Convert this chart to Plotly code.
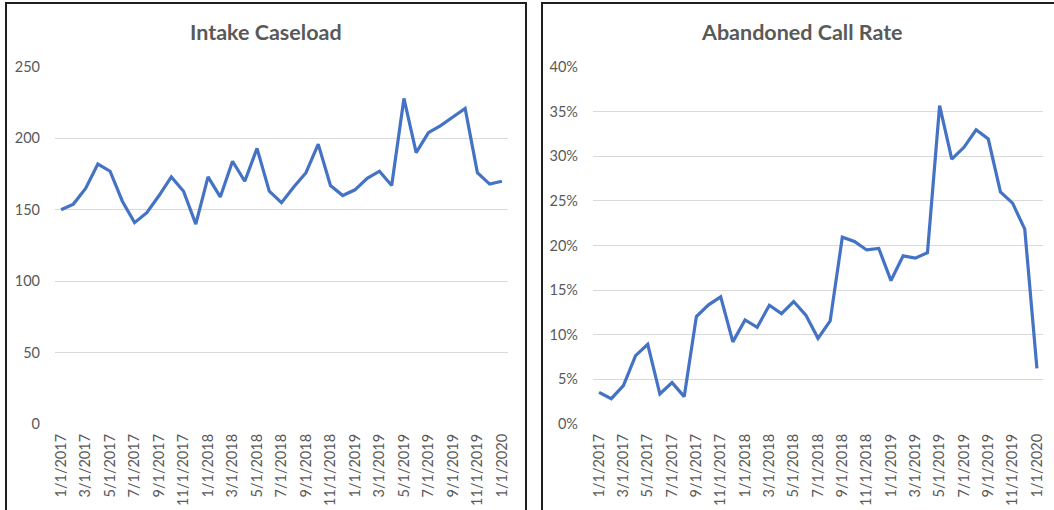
import plotly.graph_objects as go

months = [
    "1/1/2017", "2/1/2017", "3/1/2017", "4/1/2017", "5/1/2017", "6/1/2017",
    "7/1/2017", "8/1/2017", "9/1/2017", "10/1/2017", "11/1/2017", "12/1/2017",
    "1/1/2018", "2/1/2018", "3/1/2018", "4/1/2018", "5/1/2018", "6/1/2018",
    "7/1/2018", "8/1/2018", "9/1/2018", "10/1/2018", "11/1/2018", "12/1/2018",
    "1/1/2019", "2/1/2019", "3/1/2019", "4/1/2019", "5/1/2019", "6/1/2019",
    "7/1/2019", "8/1/2019", "9/1/2019", "10/1/2019", "11/1/2019", "12/1/2019",
    "1/1/2020",
]

intake_caseload = [
    150, 154, 165, 182, 177, 156, 141, 148, 160, 173, 163, 140,
    173, 159, 184, 170, 193, 163, 155, 166, 176, 196, 167, 160,
    164, 172, 177, 167, 228, 190, 204, 209, 215, 221, 176, 168,
    170,
]

abandoned_rate = [
    0.0355, 0.0284, 0.043, 0.0766, 0.0893, 0.0336, 0.0464, 0.0307, 0.1204, 0.1335, 0.1424, 0.092,
    0.1166, 0.1084, 0.133, 0.1237, 0.1372, 0.122, 0.096, 0.1155, 0.2093, 0.2045, 0.195, 0.1966,
    0.1607, 0.1884, 0.1858, 0.192, 0.3566, 0.2968, 0.31, 0.3297, 0.3193, 0.26, 0.2475, 0.2183,
    0.0624,
]

tick_months = months[::2]

W, H = 1054, 510
LINE = "#4472C4"
GRID = "#D9D9D9"
TXT = "#595959"
FONT = "Lato"


def px_x(p):
    return p / W


def px_y(p):
    return (H - p) / H


fig = go.Figure()
fig.add_trace(go.Scatter(x=months, y=intake_caseload, mode="lines",
                         line=dict(color=LINE, width=3.2), xaxis="x", yaxis="y",
                         showlegend=False))
fig.add_trace(go.Scatter(x=months, y=abandoned_rate, mode="lines",
                         line=dict(color=LINE, width=3.2), xaxis="x2", yaxis="y2",
                         showlegend=False))

ydom = [px_y(424), px_y(67)]
xcommon = dict(type="category", tickmode="array", tickvals=tick_months, ticktext=tick_months,
               range=[-0.5, len(months) - 0.5],
               tickangle=-90, showgrid=False, zeroline=False, showline=False,
               tickfont=dict(family=FONT, size=14.5, color=TXT), ticks="",
               ticklabelstandoff=6, fixedrange=True, automargin=False)
ycommon = dict(showgrid=True, gridcolor=GRID, gridwidth=1, zeroline=False, showline=False,
               tickfont=dict(family=FONT, size=14.5, color=TXT), ticks="",
               ticklabelstandoff=14, fixedrange=True, automargin=False)

fig.update_layout(
    width=W, height=H,
    margin=dict(l=0, r=0, t=0, b=0, pad=0, autoexpand=False),
    paper_bgcolor="white", plot_bgcolor="white",
    xaxis=dict(domain=[px_x(55), px_x(508)], anchor="y", **xcommon),
    yaxis=dict(domain=ydom, anchor="x", range=[0, 250], dtick=50, **ycommon),
    xaxis2=dict(domain=[px_x(593), px_x(1043)], anchor="y2", **xcommon),
    yaxis2=dict(domain=ydom, anchor="x2", range=[0, 0.4], dtick=0.05, tickformat=".0%", **ycommon),
    shapes=[
        dict(type="rect", xref="paper", yref="paper", x0=px_x(6), x1=px_x(526),
             y0=px_y(520), y1=px_y(3), line=dict(color="#1f1f1f", width=2), layer="below"),
        dict(type="rect", xref="paper", yref="paper", x0=px_x(542), x1=px_x(1070),
             y0=px_y(520), y1=px_y(3), line=dict(color="#1f1f1f", width=2), layer="below"),
    ],
    annotations=[
        dict(text="<b>Intake Caseload</b>", xref="paper", yref="paper", x=px_x(266), y=px_y(32),
             xanchor="center", yanchor="middle", showarrow=False,
             font=dict(family=FONT, size=21.5, color=TXT)),
        dict(text="<b>Abandoned Call Rate</b>", xref="paper", yref="paper", x=px_x(802), y=px_y(32),
             xanchor="center", yanchor="middle", showarrow=False,
             font=dict(family=FONT, size=21.5, color=TXT)),
    ],
)

fig.write_html("out.html")
